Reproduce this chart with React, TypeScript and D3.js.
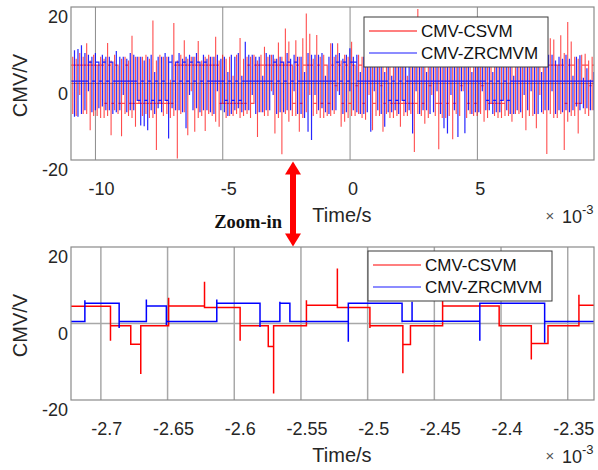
import React from 'react';
import * as d3 from 'd3';

// ---------- data ----------
const seriesNames = ['CMV-CSVM', 'CMV-ZRCMVM'];
const yTicks = [-20, 0, 20];
const yTickLabels = ['-20', '0', '20'];
const topTicks = [-10, -5, 0, 5];
const topTickLabels = ['-10', '-5', '0', '5'];
const zoomTicks = [-2.7, -2.65, -2.6, -2.55, -2.5, -2.45, -2.4, -2.35];
const zoomTickLabels = ['-2.7', '-2.65', '-2.6', '-2.55', '-2.5', '-2.45', '-2.4', '-2.35'];
const topDomain = [-10.96, 9.58]; // ms
const zoomDomain = [-2.7224, -2.3303]; // ms
const overviewPeriod = 0.1369; // ms between plotted switching events in overview

// overview (upper panel): per switching event -> overshoot, opposite excursion, settled level index
const redLevelValues = [4.8, -0.6, -5.2];
const blueLevelValues = [5.6, 0.6, -4.4];

const redSpikes = [
  7, -8.5, 8, -8, 10.5, -12.2, 7.5, -8.5, 7, -9,
  10.6, -13.5, 7.5, -8, -13.8, 7, -8.5, 12.5, -11.3, 7,
  -8.5, 7.5, -9, 16.5, -17.4, 7.5, -8.5, 7, -9, 15.8,
  -19.6, 7.5, 11.3, -13.5, 7, -12.6, 11.1, -8.5, -12.4, 7.5,
  -8.5, 12.2, -11.3, 7.5, -9, 7, -8.5, 7.5, 11.9, -8.5,
  7, -9, 7.5, -14, 7.5, 9.6, -8.5, 7.5, -13.1, 10.7,
  -18.5, 14.4, 11, -8.5, 11.3, -12.6, 11.8, 18.3, 13, -8.5,
  12.7, -9, 7.5, -8.5, 10.5, -8, 10.5, -11.3, 7.5, -9,
  10.9, -8.5, 7.5, -9, 7, 8, -12.2, 7.5, -8.5, -12.6,
  7.5, -9, 7, -8.5, -11.3, 7.5, -8.5, 7, -17.9, 19.5,
  -8.5, 7.5, -9, 7.5, -8.5, -17.2, 7.5, -9, 7, -14.6,
  7.5, -8.5, 7, -9, 7.5, -8.5, 8.5, -8, 7, -9,
  7.5, -8.5, 7, -9, 7.5, -8.5, 8.5, -8, 7.5, -9,
  -12.2, 7.5, -8.5, -11.7, 8.5, -8, -18.4, 11.8, 11.5, -9,
  12.6, -17.4, 16.1, 11, -8.5, -13.1, 7.5, 7.8, -8.5, 7,
];
const redCounter = [
  -8, 6.5, -3, 7, -8, 6, -8.5, 2, -9, 6.5,
  -8.5, 6, -7, 3, 6.5, -8, 6, -9, 7, -2,
  7, -8, 6.5, -9, 6, -3, 7, -8, 1, -8.5,
  6, -8, -7.5, 6.5, -2, 7, -9, 6, 7, -8,
  7, -10, 6, -3, 6.5, -8.5, 2, -8, -9, 6.5,
  -8, 7, -3, 6, -7.5, -8.5, 7, -2, 6.5, -9,
  7, -8, -10, 2, -8.5, 7, -9, -7.5, -3, 6.5,
  -8, 7, -9, 3, -8.5, 7, -2, 6, -10, 7,
  -8.5, 2, -8, 7, -9.5, -3, 6, -8.5, 7, 6.5,
  -8, 3, -9, 7, 6, -8.5, 2, -8, 6.5, -8,
  7, -10.5, 6.5, -3, 7, 6, -9, 2, -8.5, 6.5,
  -8, 7, -2, 6.5, -8, 3, -8.5, 6.5, -10, 7,
  -3, 6.5, -9, 7, -8.5, 2, -10, 7, -8, 3,
  7, -8.5, 7.5, 6, -3, 7, 6.5, -8, -9, 2,
  -8, 8, -10, -8.5, 7, 6.5, -3, -8, 6, -7,
];
const redLevels = [
  0, 0, 0, 0, 0, 0, 0, 0, 0, 2,
  0, 2, 0, 2, 2, 0, 2, 2, 2, 2,
  2, 2, 2, 2, 2, 2, 2, 2, 2, 0,
  0, 0, 0, 0, 0, 0, 0, 0, 0, 0,
  0, 0, 2, 2, 2, 2, 2, 2, 2, 2,
  0, 2, 0, 0, 0, 0, 0, 0, 0, 0,
  0, 0, 0, 2, 0, 2, 0, 0, 0, 2,
  0, 2, 0, 2, 0, 1, 0, 2, 0, 2,
  0, 1, 0, 2, 0, 0, 2, 0, 1, 2,
  0, 2, 2, 2, 2, 2, 2, 2, 2, 0,
  2, 0, 1, 0, 2, 2, 0, 2, 0, 2,
  0, 1, 0, 2, 0, 2, 0, 1, 0, 2,
  2, 2, 2, 2, 0, 0, 0, 0, 0, 0,
  0, 0, 0, 0, 0, 0, 0, 0, 0, 0,
  0, 2, 0, 0, 2, 2, 0, 0, 1, 0,
];
const blueSpikes = [
  8.7, -8.7, 10, -7, 7.5, -7.5, 8, -6.5, 7.5, -7,
  7, -8, 8.5, -7, 7, -7.5, 8, -7, 7, -11,
  -11.2, -12.2, 7.5, -8, 7, -7.5, 8, -14.4, 7.5, -7,
  8, -7.5, -11.7, 7.5, -7, 8, -7.5, 7.5, -7, 7,
  -8, 7.5, -7, 7, -8.5, 7.5, -7, 8, -7.5, 10.9,
  -7, 7.5, -8, 7, -7.5, 8, -7, 7.5, -8, 7,
  -7.5, 8, -7, 7.5, -8, 7, -9, -12.6, -14.8, 7.5,
  -7, 8, -7.5, 7, 10.5, -7, 8, -8, 7.5, 9.2,
  -7, 7.5, -8, 7, -7.5, -12.6, 7.5, -7, 8, -11.3,
  7, -7.5, 8, -8, 7, -7.5, 7.5, -13.1, 7, -8,
  7.5, -7, 8, -7.5, 7, -8, -11.7, -13.1, 7.5, -7,
  -14, 7, -13, 7.5, -8, 7, -7.5, 8, -7, 7.5,
  -8, 7, -7.5, 8, -7, 7.5, -8, 7, -7.5, 8,
  -7, 7.5, -8, 7, -7.5, 8, -7, 7.5, -8, 7,
  -7.5, 7.5, 6.5, -7, 7, 7.4, -6.5, 4, -7, 3,
];
const blueCounter = [
  -8.7, 9, -8, 8, -2, 7, -7, 3, -6, 7,
  -7, 2, -7.5, 7, -3, 6.5, -7, 7.5, -2, 7,
  6, 7, -7, 3, -6.5, 7, -2, 7, -6.5, 2,
  -7, 6.5, 7, -3, 7, -6.5, 2, -7, 6.5, -7.5,
  7, -2, 6.5, -7.5, 3, -8, 7, -6.5, 2, -7,
  7.5, -3, 7, -7.5, 2, -7, 7.5, -3, 6.5, -7.5,
  2, -7, 6.5, -2, 7, -8, 3, 8, 7.5, -3,
  7.5, -6.5, 2, -8, -7, 7.5, -3, 6.5, -7.5, -2,
  7, -7.5, 3, -8, 7, 7.5, -2, 7, -8, 3,
  -7.5, 2, -7, 6.5, -3, 7, -7, 7.5, -2, 6.5,
  -7, 3, -8, 7, -2, 6.5, 7, 8, -3, 7,
  7, -2, 7.5, -7, 3, -7.5, 7, -2, 7, -7,
  3, -7.5, 7, -2, 7.5, -8, 2, -7, 7, -3,
  7, -2, 6.5, -8, 3, -7, 7.5, -2, 6, -7,
  6.5, -7, -7.5, 2, -6, -7, 1.5, -6.5, 1, -7,
];
const blueLevels = [
  1, 1, 1, 1, 0, 1, 0, 1, 0, 1,
  0, 1, 1, 1, 1, 1, 1, 1, 2, 1,
  2, 1, 2, 1, 2, 1, 2, 0, 1, 0,
  1, 0, 1, 0, 1, 0, 1, 0, 1, 1,
  1, 1, 1, 2, 1, 2, 1, 2, 1, 1,
  1, 1, 1, 1, 1, 1, 1, 0, 1, 0,
  1, 0, 1, 0, 1, 1, 1, 1, 1, 1,
  1, 1, 1, 1, 1, 0, 1, 0, 1, 0,
  0, 1, 1, 1, 1, 1, 1, 1, 1, 1,
  2, 1, 2, 1, 2, 1, 1, 1, 1, 1,
  1, 1, 1, 1, 1, 1, 1, 1, 1, 1,
  1, 1, 1, 1, 1, 1, 1, 1, 2, 1,
  2, 1, 2, 1, 2, 1, 1, 1, 1, 1,
  1, 1, 1, 1, 1, 1, 1, 1, 1, 1,
  1, 1, 1, 1, 1, 1, 1, 1, 1, 1,
];

// zoomed panel: switching instants (ms), spike value and settled level
const zoomRedStart = 4.5;
const zoomRedT = [-2.6928, -2.6776, -2.6701, -2.6492, -2.6223, -2.5956, -2.5745, -2.5705, -2.5459, -2.5227, -2.4983, -2.4736, -2.4679, -2.4438, -2.4014, -2.3773, -2.3648, -2.3416];
const zoomRedSpike = [-4.5, -5.6, -13.2, 6.7, 10.9, -4.5, -6.0, -18.3, 6.1, 14.4, -1.2, -13.0, -0.6, 6.0, -0.8, -9.4, -0.6, 7.5];
const zoomRedLevel = [-0.6, -5.4, -0.6, 4.6, 4.2, -0.6, -6.0, -0.6, 4.8, 4.2, -0.6, -5.5, -0.6, 4.6, -0.6, -5.2, -0.6, 4.8];

const zoomBlueStart = 0.5;
const zoomBlueT = [-2.712, -2.6863, -2.6659, -2.6509, -2.6131, -2.5807, -2.5658, -2.5583, -2.5145, -2.4742, -2.4667, -2.4159, -2.3673];
const zoomBlueSpike = [6.1, -1.2, 6.3, -0.4, 6.3, -0.9, 5.7, 0.5, -4.8, 0.3, 5.7, -4.5, -5.0];
const zoomBlueLevel = [5.3, 0.5, 4.6, 0.5, 5.3, 0.5, 5.3, 0.5, 5.3, 0.6, 0.6, 5.3, 0.5];

// ---------- layout ----------
const W = 598, H = 470;
const PL = 71, PR = 594;
const topBox = { top: 7, bottom: 160 };
const botBox = { top: 247, bottom: 400 };
const RED = '#ff0000';
const BLUE = '#0000ff';
const FONT = '"Liberation Sans", Arial, Helvetica, sans-serif';
const TXT = '#262626';

type Pt = [number, number];

function stepPoints(times: number[], spikes: number[], levels: number[], start: number, t0: number, t1: number, counter?: number[]): Pt[] {
  const pts: Pt[] = [[t0, start]];
  let prev = start;
  times.forEach((t, i) => {
    pts.push([t, prev]);
    pts.push([t, spikes[i]]);
    if (counter) pts.push([t, counter[i]]);
    pts.push([t, levels[i]]);
    prev = levels[i];
  });
  pts.push([t1, prev]);
  return pts;
}

function Legend({ x, y }: { x: number; y: number }) {
  return (
    <g>
      <rect x={x} y={y} width={184} height={50} fill="#fff" stroke="#3a3a3a" strokeWidth={1} />
      <line x1={x + 5} x2={x + 53} y1={y + 14} y2={y + 14} stroke={RED} strokeWidth={1.2} />
      <line x1={x + 5} x2={x + 53} y1={y + 36} y2={y + 36} stroke="#1a1aff" strokeWidth={1.2} />
      <text x={x + 57} y={y + 14} dominantBaseline="central" fontFamily={FONT} fontSize={17} fill="#111">{seriesNames[0]}</text>
      <text x={x + 57} y={y + 36.5} dominantBaseline="central" fontFamily={FONT} fontSize={17} fill="#111">{seriesNames[1]}</text>
    </g>
  );
}

function Panel({ box, xScale, ticks, tickLabels, children, gridColor, gridWidth, legendX, legendY, clipId }: any) {
  const y = d3.scaleLinear().domain([-20, 20]).range([box.bottom, box.top]);
  const midY = (box.top + box.bottom) / 2;
  return (
    <g>
      <defs>
        <clipPath id={clipId}>
          <rect x={PL} y={box.top} width={PR - PL} height={box.bottom - box.top} />
        </clipPath>
      </defs>
      <rect x={PL} y={box.top} width={PR - PL} height={box.bottom - box.top} fill="#fff" />
      {ticks.map((t: number) => (
        <line key={'g' + t} x1={xScale(t)} x2={xScale(t)} y1={box.top} y2={box.bottom} stroke={gridColor} strokeWidth={gridWidth} />
      ))}
      <line x1={PL} x2={PR} y1={y(0)} y2={y(0)} stroke={gridColor} strokeWidth={gridWidth} />
      <g clipPath={`url(#${clipId})`}>{children(y)}</g>
      <rect x={PL} y={box.top} width={PR - PL} height={box.bottom - box.top} fill="none" stroke="#8a8a8a" strokeWidth={1.2} />
      {yTicks.map((v, i) => (
        <text key={'yl' + v} x={68} y={y(v) + 10} textAnchor="end" dominantBaseline="central" fontFamily={FONT} fontSize={18} fill={TXT}>{yTickLabels[i]}</text>
      ))}
      {ticks.map((t: number, i: number) => (
        <text key={'xl' + t} x={xScale(t) + (tickLabels[i].startsWith('-') ? 6 : 3)} y={box.bottom + 29} textAnchor="middle" dominantBaseline="central" fontFamily={FONT} fontSize={18} fill={TXT}>{tickLabels[i]}</text>
      ))}
      <text transform={`translate(19.5,${midY + 2}) rotate(-90)`} textAnchor="middle" dominantBaseline="central" fontFamily={FONT} fontSize={20} fill={TXT}>CMV/V</text>
      <text x={342} y={box.bottom + 55} textAnchor="middle" dominantBaseline="central" fontFamily={FONT} fontSize={20} fill={TXT}>Time/s</text>
      <text x={550} y={box.bottom + 55} textAnchor="middle" dominantBaseline="central" fontFamily={FONT} fontSize={15} fill="#555">×</text>
      <text x={562} y={box.bottom + 57} dominantBaseline="central" fontFamily={FONT} fontSize={18} fill={TXT}>10<tspan dy={-8} fontSize={13}>-3</tspan></text>
      <Legend x={legendX} y={legendY} />
    </g>
  );
}

export default function App() {
  const xTop = d3.scaleLinear().domain(topDomain).range([PL, PR]);
  const xBot = d3.scaleLinear().domain(zoomDomain).range([PL, PR]);

  const redTimes = redSpikes.map((_, i) => topDomain[0] + (i + 0.5) * overviewPeriod);
  const blueTimes = blueSpikes.map((_, i) => topDomain[0] + (i + 1) * overviewPeriod);
  const redTop = stepPoints(redTimes, redSpikes, redLevels.map((k) => redLevelValues[k]), redLevelValues[0], topDomain[0], topDomain[1], redCounter);
  const blueTop = stepPoints(blueTimes, blueSpikes, blueLevels.map((k) => blueLevelValues[k]), blueLevelValues[1], topDomain[0], topDomain[1], blueCounter);
  const redBot = stepPoints(zoomRedT, zoomRedSpike, zoomRedLevel, zoomRedStart, zoomDomain[0], zoomDomain[1]);
  const blueBot = stepPoints(zoomBlueT, zoomBlueSpike, zoomBlueLevel, zoomBlueStart, zoomDomain[0], zoomDomain[1]);

  const arrowX = 293;
  const aTop = 161.5, aBot = 246.5;

  return (
    <svg width={W} height={H} viewBox={`0 0 ${W} ${H}`} style={{ display: 'block', position: 'absolute', left: 0, top: 0, background: '#fff' }}>
      <rect x={0} y={0} width={W} height={H} fill="#fff" />
      <Panel box={topBox} xScale={xTop} ticks={topTicks} tickLabels={topTickLabels} gridColor="#8c8c8c" gridWidth={1} legendX={364} legendY={17} clipId="clipTop">
        {(y: any) => {
          const line = d3.line<Pt>().x((d) => xTop(d[0])).y((d) => y(d[1]));
          return (
            <g>
              <path d={line(redTop) || ''} fill="none" stroke={RED} strokeWidth={1.1} strokeOpacity={0.7} />
              <path d={line(blueTop) || ''} fill="none" stroke={BLUE} strokeWidth={1.2} strokeOpacity={0.85} />
            </g>
          );
        }}
      </Panel>
      <Panel box={botBox} xScale={xBot} ticks={zoomTicks} tickLabels={zoomTickLabels} gridColor="#a8a8a8" gridWidth={1.5} legendX={368} legendY={251} clipId="clipBot">
        {(y: any) => {
          const line = d3.line<Pt>().x((d) => xBot(d[0])).y((d) => y(d[1]));
          return (
            <g>
              <path d={line(redBot) || ''} fill="none" stroke={RED} strokeWidth={1.5} />
              <path d={line(blueBot) || ''} fill="none" stroke={BLUE} strokeWidth={1.5} />
            </g>
          );
        }}
      </Panel>
      {/* zoom arrow */}
      <rect x={arrowX - 3} y={aTop + 12} width={6} height={aBot - aTop - 24} fill={RED} />
      <polygon points={`${arrowX},${aTop} ${arrowX - 8},${aTop + 13} ${arrowX + 8},${aTop + 13}`} fill={RED} />
      <polygon points={`${arrowX},${aBot} ${arrowX - 8},${aBot - 13} ${arrowX + 8},${aBot - 13}`} fill={RED} />
      <text x={282} y={228} textAnchor="end" fontFamily='"Liberation Serif", "Times New Roman", serif' fontWeight="bold" fontSize={18.5} fill="#111">Zoom-in</text>
    </svg>
  );
}
